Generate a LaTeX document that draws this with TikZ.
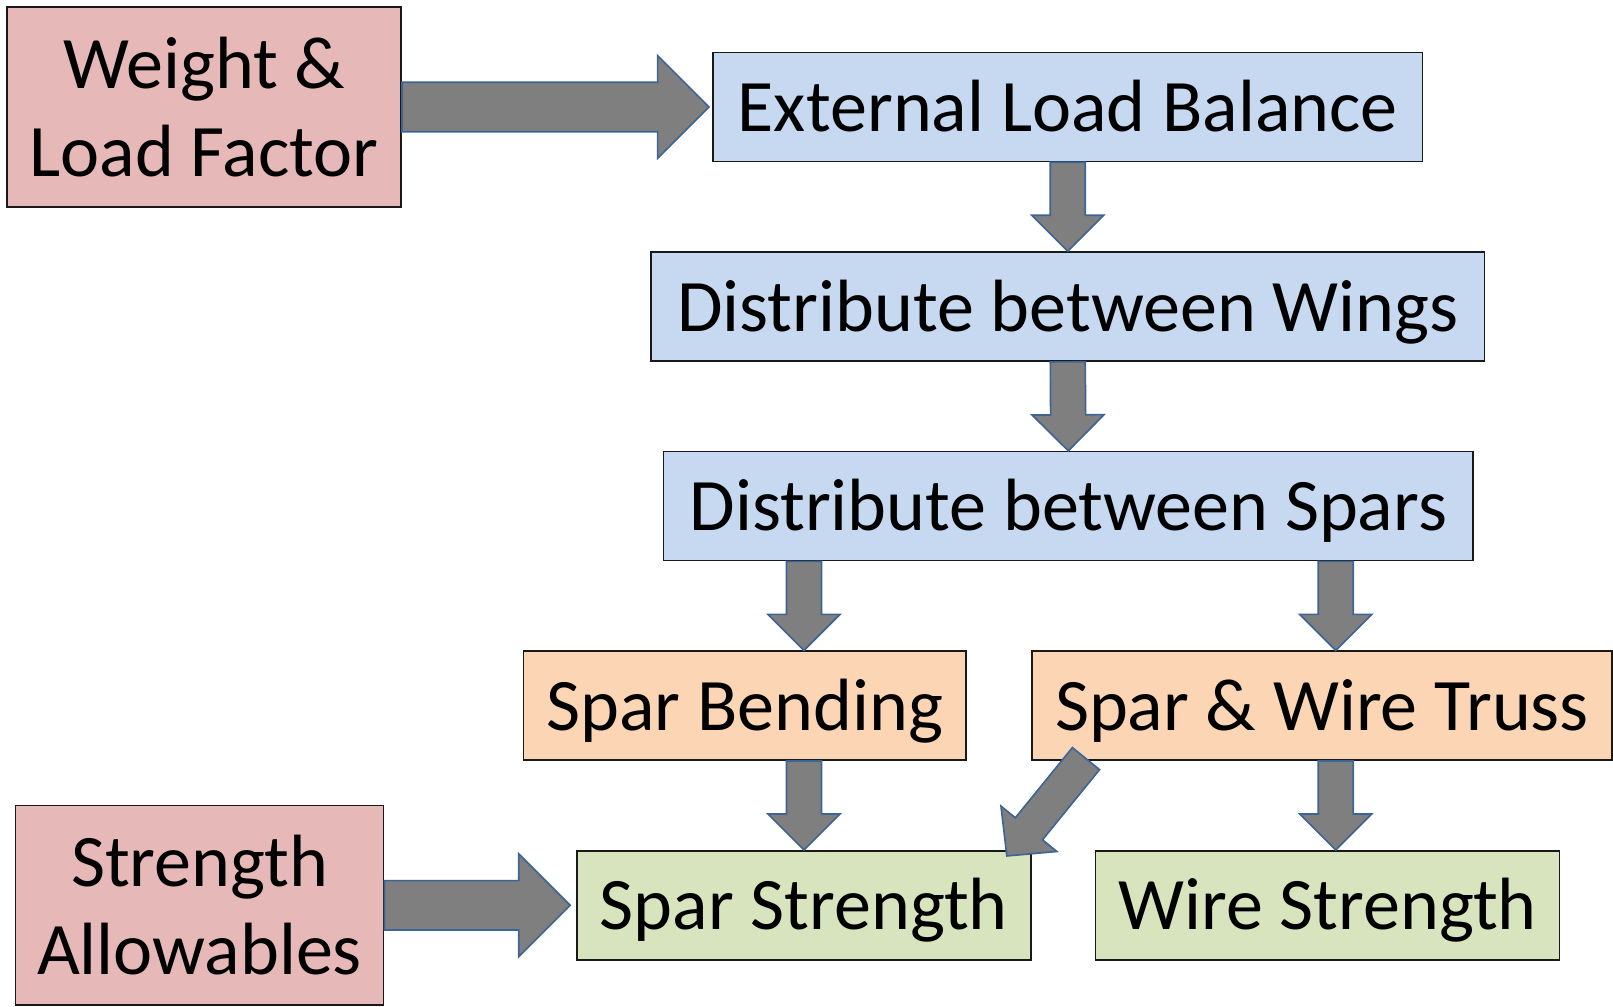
\documentclass[tikz,border=0pt]{standalone}
\usepackage{fontspec}
\setmainfont{Carlito}
\usetikzlibrary{calc}
\definecolor{pinkc}{HTML}{E6B9B8}
\definecolor{bluec}{HTML}{C6D9F1}
\definecolor{orangec}{HTML}{FCD5B5}
\definecolor{greenc}{HTML}{D7E4BD}
\definecolor{arrowfill}{HTML}{7F7F7F}
\definecolor{arrowline}{HTML}{3D6594}
\tikzset{
  boxbase/.style={draw=black!90, line width=1.5pt, inner sep=0pt, align=center,
    font=\fontsize{72}{86}\selectfont},
  oneline/.style={text height=54pt, text depth=6pt},
  pinkbox/.style={boxbase, fill=pinkc},
  bluebox/.style={boxbase, oneline, fill=bluec},
  orangebox/.style={boxbase, oneline, fill=orangec},
  greenbox/.style={boxbase, oneline, fill=greenc},
  fatarrowstyle/.style={fill=arrowfill, draw=arrowline, line width=1.6pt, line join=miter}
}
% #1 shaft half width, #2 head half width, #3 head length, #4 tail, #5 tip
\newcommand{\fatarrow}[5]{%
  \coordinate (fahead) at ($(#5)!#3!(#4)$);
  \filldraw[fatarrowstyle] ($(#4)!#1!90:(#5)$) -- ($(fahead)!#1!90:(#5)$)
    -- ($(fahead)!#2!90:(#5)$) -- (#5) -- ($(fahead)!#2!-90:(#5)$)
    -- ($(fahead)!#1!-90:(#5)$) -- ($(#4)!#1!-90:(#5)$) -- cycle;
}
\begin{document}
\begin{tikzpicture}[x=1pt,y=1pt]
\useasboundingbox (0,0) rectangle (1568,-978);
\fill[white] (0,0) rectangle (1568,-978);

\node[pinkbox, minimum width=383pt, minimum height=194pt] (wl) at (198.5,-104) {Weight \&\\Load Factor};
\node[bluebox, minimum width=690pt, minimum height=106pt] (ext) at (1038,-104) {External Load Balance};
\node[bluebox, minimum width=810pt, minimum height=106pt] (wings) at (1038,-298) {Distribute between Wings};
\node[bluebox, minimum width=787pt, minimum height=106pt] (spars) at (1038.5,-492) {Distribute between Spars};
\node[orangebox, minimum width=430pt, minimum height=106pt] (bend) at (724,-686) {Spar Bending};
\node[orangebox, minimum width=564pt, minimum height=106pt] (truss) at (1285,-686) {Spar \& Wire Truss};
\node[greenbox, minimum width=441pt, minimum height=106pt] (sstr) at (781.5,-880) {Spar Strength};
\node[greenbox, minimum width=451pt, minimum height=106pt] (wstr) at (1290.5,-880) {Wire Strength};
\node[pinkbox, minimum width=358pt, minimum height=194pt] (sa) at (194,-880) {Strength\\Allowables};

% connector end points
\coordinate (a1e) at ($(ext.west)+(-3,0)$);
\coordinate (a4s) at (spars.south -| sstr.north);
\coordinate (a4e) at (bend.north -| sstr.north);
\coordinate (rx) at ($(wstr.north)+(8,0)$);
\coordinate (a5s) at (spars.south -| rx);
\coordinate (a5e) at (truss.north -| rx);
\coordinate (a6s) at (bend.south -| sstr.north);
\coordinate (a7s) at (truss.south -| rx);
\coordinate (a7e) at (wstr.north -| rx);
\coordinate (a8e) at ($(sstr.west)+(-6,0)$);
\coordinate (a9s) at ($(truss.south west)+(53.4,2.3)$);
\coordinate (a9e) at ($(sstr.north east)+(-24,-5.8)$);

\fatarrow{24pt}{50pt}{50pt}{wl.east}{a1e}
\fatarrow{17pt}{35pt}{35pt}{ext.south}{wings.north}
\fatarrow{17pt}{35pt}{35pt}{wings.south}{spars.north}
\fatarrow{17pt}{35pt}{35pt}{a4s}{a4e}
\fatarrow{17pt}{35pt}{35pt}{a5s}{a5e}
\fatarrow{17pt}{35pt}{35pt}{a6s}{sstr.north}
\fatarrow{17pt}{35pt}{35pt}{a7s}{a7e}
\fatarrow{24pt}{50pt}{50pt}{sa.east}{a8e}
\fatarrow{17pt}{35pt}{34pt}{a9s}{a9e}
\end{tikzpicture}
\end{document}
